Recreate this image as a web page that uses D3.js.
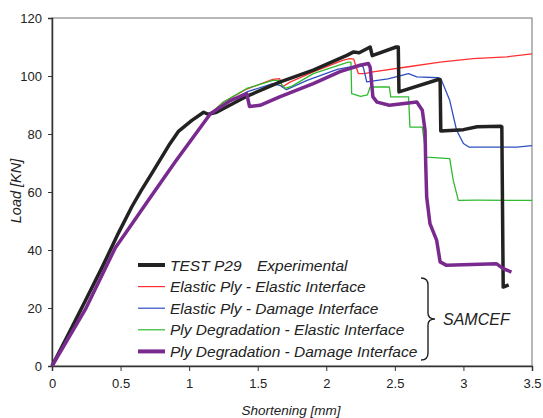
<!DOCTYPE html>
<html><head><meta charset="utf-8">
<script src="https://cdn.jsdelivr.net/npm/d3@7"></script>
<style>body{margin:0;background:#fff}svg{display:block}text{font-family:"Liberation Sans",Arial,sans-serif}</style>
</head><body><svg id="c" width="543" height="418"></svg>
<script>
const xTicks = [0, 0.5, 1, 1.5, 2, 2.5, 3, 3.5];
const yTicks = [0, 20, 40, 60, 80, 100, 120];
const seriesNames = ["TEST P29", "Elastic Ply - Elastic Interface", "Elastic Ply - Damage Interface", "Ply Degradation - Elastic Interface", "Ply Degradation - Damage Interface"];
const common = [[0,0],[0.243,19.5],[0.462,40.8],[0.56,47.4],[0.70,57],[0.9,70.5],[1.155,87]];
const testP29 = [[0,0],[0.12,11],[0.243,22.5],[0.365,34],[0.486,46],[0.583,55],[0.65,60.5],[0.729,66.5],[0.8,72],[0.851,76],[0.924,81],[1.02,84.7],[1.106,87.5],[1.14,86.8],[1.2,87.5],[1.42,93],[1.66,97.9],[1.905,102],[2.15,107.1],[2.2,108.3],[2.24,108],[2.32,110],[2.335,107],[2.51,110],[2.525,110],[2.53,94.5],[2.817,98.8],[2.83,98.8],[2.835,81],[3.0,81.5],[3.1,82.5],[3.27,82.7],[3.28,82.5],[3.29,27.2],[3.33,28]];
const elasticElastic = common.concat([[1.25,91],[1.42,95.5],[1.61,98.8],[1.66,99.1],[1.68,96.2],[1.735,97.9],[1.905,101.4],[2.12,105.4],[2.17,106],[2.2,105.8],[2.234,100.8],[2.28,100.8],[2.34,101.4],[2.586,103.1],[2.83,104.8],[3.07,106],[3.316,106.6],[3.5,107.6]]);
const elasticDamage = common.concat([[1.25,90],[1.42,94.5],[1.61,97.4],[1.66,96.8],[1.71,95.3],[1.86,98.5],[2.08,102.3],[2.25,103.8],[2.27,103],[2.295,98],[2.45,99],[2.6,100.8],[2.66,99.7],[2.82,99.4],[2.84,98.5],[2.9,91.6],[2.95,81.3],[3.0,76.7],[3.04,75.5],[3.39,75.5],[3.5,76]]);
const degradElastic = common.concat([[1.25,91],[1.42,95.7],[1.61,98.5],[1.65,98.5],[1.7,95.7],[1.75,96.5],[1.905,100.8],[2.16,104.8],[2.18,104.8],[2.185,93.9],[2.25,93],[2.3,93.5],[2.32,96.2],[2.46,96.2],[2.47,92.8],[2.6,92.8],[2.61,82.4],[2.70,82.4],[2.73,72],[2.9,71.5],[2.926,64],[2.963,57.1],[3.1,57.2],[3.5,57.1]]);
const degradDamage = [[0,0],[0.243,19.5],[0.462,40.8],[0.56,47.4],[0.70,57],[0.9,70.5],[1.155,87],[1.3,91.5],[1.42,93.9],[1.44,89.5],[1.517,89.9],[1.66,92.8],[1.905,97.4],[2.1,101.5],[2.246,103.7],[2.307,104.3],[2.32,103],[2.34,92.8],[2.37,91],[2.46,89.9],[2.66,91],[2.7,88.2],[2.72,81.3],[2.725,69.8],[2.732,58.3],[2.756,49.1],[2.805,43.3],[2.83,35.9],[2.877,34.7],[3.24,35.3],[3.29,33.6],[3.35,32.4]];

const svg = d3.select("#c");
const L = 52, R = 532, T = 18, B = 366;
const x = d3.scaleLinear().domain([0, 3.5]).range([L, R]);
const y = d3.scaleLinear().domain([0, 120]).range([B, T]);

svg.append("rect").attr("x", L).attr("y", T).attr("width", R - L).attr("height", B - T)
  .attr("fill", "none").attr("stroke", "#888").attr("stroke-width", 1.2);

const xa = svg.append("g").attr("transform", `translate(0,${B})`)
  .call(d3.axisBottom(x).tickValues(xTicks).tickFormat(d => String(d)).tickSizeOuter(0).tickSize(5).tickPadding(8));
const ya = svg.append("g").attr("transform", `translate(${L},0)`)
  .call(d3.axisLeft(y).tickValues(yTicks).tickSizeOuter(0).tickSize(4).tickPadding(6));
[xa, ya].forEach(a => {
  a.select(".domain").attr("stroke", "#333").attr("stroke-width", 1.5);
  a.selectAll(".tick line").attr("stroke", "#333");
  a.selectAll("text").attr("font-size", 13).attr("fill", "#222").style("font-family", '"Liberation Sans",Arial,sans-serif');
});

const line = d3.line().x(d => x(d[0])).y(d => y(d[1]));
const series = [
  {d: elasticElastic, c: "#ff3030", w: 1.3},
  {d: elasticDamage, c: "#2f4fc0", w: 1.3},
  {d: degradElastic, c: "#2fba2f", w: 1.3},
  {d: testP29, c: "#222222", w: 3.5},
  {d: degradDamage, c: "#7a2a8f", w: 3.5}
];
series.forEach(s => svg.append("path").attr("d", line(s.d)).attr("fill", "none")
  .attr("stroke", s.c).attr("stroke-width", s.w).attr("stroke-linejoin", "round"));

const legOrder = [
  {n: seriesNames[0], c: "#222222", w: 4},
  {n: seriesNames[1], c: "#ff3030", w: 1.2},
  {n: seriesNames[2], c: "#2f4fc0", w: 1.2},
  {n: seriesNames[3], c: "#2fba2f", w: 1.2},
  {n: seriesNames[4], c: "#7a2a8f", w: 4}
];
legOrder.forEach((s, i) => {
  const yy = 265 + i * 21.6;
  svg.append("line").attr("x1", 138).attr("x2", 165).attr("y1", yy).attr("y2", yy)
    .attr("stroke", s.c).attr("stroke-width", s.w);
  svg.append("text").attr("x", 170).attr("y", yy + 5.5).attr("font-size", 15.5)
    .attr("font-style", "italic").attr("fill", "#222").text(s.n);
});
svg.append("text").attr("x", 257).attr("y", 265 + 5.5).attr("font-size", 15.5)
  .attr("font-style", "italic").attr("fill", "#222").text("Experimental");

svg.append("path").attr("fill", "none").attr("stroke", "#222").attr("stroke-width", 1.4)
  .attr("d", "M421,278 Q428,278 428,285 L428,313 Q428,319 435,319 Q428,319 428,325 L428,353 Q428,360 421,360");
svg.append("text").attr("x", 443).attr("y", 325).attr("font-size", 16)
  .attr("font-style", "italic").attr("fill", "#222").text("SAMCEF");

svg.append("text").attr("transform", "translate(21,191) rotate(-90)").attr("text-anchor", "middle")
  .attr("font-size", 14.5).attr("font-style", "italic").attr("fill", "#222").text("Load [KN]");
svg.append("text").attr("x", 291).attr("y", 415).attr("text-anchor", "middle")
  .attr("font-size", 13.5).attr("font-style", "italic").attr("fill", "#222").text("Shortening [mm]");
</script></body></html>
